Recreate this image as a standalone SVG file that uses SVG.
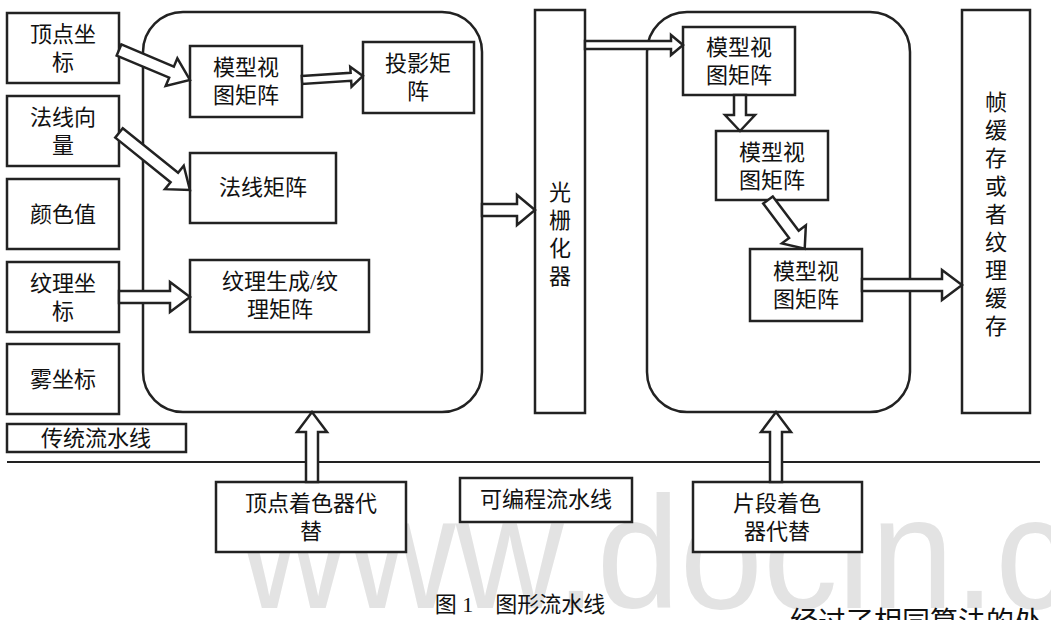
<svg xmlns="http://www.w3.org/2000/svg" width="1051" height="620" viewBox="0 0 1051 620">
<style>
rect,path{fill:#fff;stroke:#222;stroke-width:2.5}
text{font-family:"Liberation Serif","Noto Sans CJK SC",serif;font-size:22px;fill:#111;text-anchor:middle}
.wm{font-family:"Liberation Sans",sans-serif;font-size:160px;fill:#e3e3e3;text-anchor:start}
</style>
<rect x="0" y="0" width="1051" height="620" style="stroke:none"/>
<text class="wm" x="240" y="608" textLength="830" lengthAdjust="spacingAndGlyphs">www.docin.c</text>
<g id="lane"><rect x="7" y="424" width="179" height="28"/><text x="96" y="446">传统流水线</text>
<line x1="7" y1="462" x2="1040" y2="462" stroke="#222" stroke-width="2"/></g>
<g id="bigL"><rect x="143" y="12" width="339" height="400" rx="40"/></g>
<g id="bigR"><rect x="647" y="12" width="263" height="400" rx="40"/></g>
<g id="n1"><rect x="7" y="13" width="112" height="70"/><text x="63" y="42">顶点坐</text><text x="63" y="70">标</text></g>
<g id="n2"><rect x="7" y="96" width="112" height="70"/><text x="63" y="125">法线向</text><text x="63" y="153">量</text></g>
<g id="n3"><rect x="7" y="179" width="112" height="70"/><text x="63" y="222">颜色值</text></g>
<g id="n4"><rect x="7" y="262" width="112" height="70"/><text x="63" y="291">纹理坐</text><text x="63" y="319">标</text></g>
<g id="n5"><rect x="7" y="344" width="112" height="70"/><text x="63" y="387">雾坐标</text></g>
<g id="n6"><rect x="190" y="46" width="112" height="71"/><text x="246" y="75">模型视</text><text x="246" y="103">图矩阵</text></g>
<g id="n7"><rect x="363" y="42" width="111" height="71"/><text x="418" y="71">投影矩</text><text x="418" y="99">阵</text></g>
<g id="n8"><rect x="190" y="153" width="146" height="70"/><text x="263" y="195">法线矩阵</text></g>
<g id="n9"><rect x="190" y="260" width="179" height="72"/><text x="280" y="289">纹理生成/纹</text><text x="280" y="317">理矩阵</text></g>
<g id="n10"><rect x="535" y="10" width="50" height="403"/><text x="560" y="200">光</text><text x="560" y="228">栅</text><text x="560" y="256">化</text><text x="560" y="284">器</text></g>
<g id="n11"><rect x="683" y="27" width="112" height="68"/><text x="739" y="55">模型视</text><text x="739" y="83">图矩阵</text></g>
<g id="n12"><rect x="716" y="131" width="112" height="69"/><text x="772" y="160">模型视</text><text x="772" y="188">图矩阵</text></g>
<g id="n13"><rect x="750" y="249" width="112" height="72"/><text x="806" y="279">模型视</text><text x="806" y="307">图矩阵</text></g>
<g id="n14"><rect x="962" y="10" width="68" height="403"/>
<text x="996" y="110">帧</text><text x="996" y="138">缓</text><text x="996" y="166">存</text><text x="996" y="194">或</text><text x="996" y="222">者</text><text x="996" y="250">纹</text><text x="996" y="278">理</text><text x="996" y="306">缓</text><text x="996" y="334">存</text></g>
<g id="n15"><rect x="216" y="482" width="190" height="70"/><text x="311" y="511">顶点着色器代</text><text x="311" y="539">替</text></g>
<g id="n16"><rect x="460" y="478" width="172" height="44"/><text x="546" y="507">可编程流水线</text></g>
<g id="n17"><rect x="693" y="482" width="169" height="70"/><text x="777" y="511">片段着色</text><text x="777" y="539">器代替</text></g>
<g id="connectors">
<path transform="translate(119,50) rotate(22.9)" d="M0,-6 L57,-6 L57,-15 L77,0 L57,15 L57,6 L0,6 Z"/>
<path transform="translate(119,133) rotate(38.8)" d="M0,-6 L71,-6 L71,-15 L91,0 L71,15 L71,6 L0,6 Z"/>
<path transform="translate(119,297)" d="M0,-6 L51,-6 L51,-15 L71,0 L51,15 L51,6 L0,6 Z"/>
<path transform="translate(302,80) rotate(-3.8)" d="M0,-4 L49,-4 L49,-10 L61,0 L49,10 L49,4 L0,4 Z"/>
<path transform="translate(482,210)" d="M0,-6 L35,-6 L35,-15 L53,0 L35,15 L35,6 L0,6 Z"/>
<path transform="translate(585,45)" d="M0,-4 L86,-4 L86,-10 L98,0 L86,10 L86,4 L0,4 Z"/>
<path transform="translate(740,95) rotate(90)" d="M0,-6 L20,-6 L20,-15 L36,0 L20,15 L20,6 L0,6 Z"/>
<path transform="translate(768,200) rotate(53)" d="M0,-6 L43,-6 L43,-15 L61,0 L43,15 L43,6 L0,6 Z"/>
<path transform="translate(862,285)" d="M0,-6 L80,-6 L80,-15 L100,0 L80,15 L80,6 L0,6 Z"/>
<path transform="translate(312,482) rotate(-90)" d="M0,-6 L50,-6 L50,-15 L70,0 L50,15 L50,6 L0,6 Z"/>
<path transform="translate(776,482) rotate(-90)" d="M0,-6 L50,-6 L50,-15 L70,0 L50,15 L50,6 L0,6 Z"/>
</g>
<text x="520" y="612">图 1　图形流水线</text>
<text x="790" y="632" style="text-anchor:start;font-size:28px">经过了相同算法的处</text>
</svg>
